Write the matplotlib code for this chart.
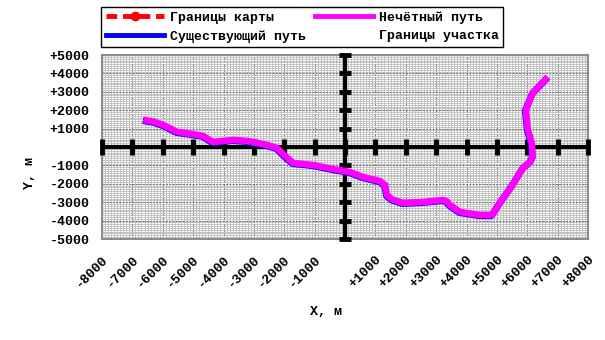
import matplotlib
matplotlib.use("Agg")
import matplotlib.pyplot as plt
import matplotlib.transforms as mtransforms
import numpy as np

# ---- data ----
odd_x = [-6640, -6300, -5990, -5750, -5530, -5000, -4670, -4500, -4340, -4000, -3680,
         -3220, -2900, -2570, -2240, -2000, -1710, -1050, -390, 160, 590, 1150,
         1320, 1380, 1550, 1910, 2570, 3220, 3350, 3450, 3780, 4440, 4840,
         5100, 5500, 5860, 6100, 6180, 6150, 6020, 5950, 6180, 6680]
odd_y = [1470, 1380, 1200, 1000, 820, 700, 600, 420, 270, 330, 380,
         330, 230, 110, -50, -450, -870, -980, -1200, -1360, -1630, -1850,
         -2070, -2610, -2850, -3040, -2990, -2880, -2950, -3150, -3530, -3700, -3700,
         -3040, -2100, -1140, -800, -540, 220, 920, 2010, 2930, 3800]
exist_x = list(odd_x)
exist_y = list(odd_y)

x_ticks = [-8000, -7000, -6000, -5000, -4000, -3000, -2000, -1000,
           1000, 2000, 3000, 4000, 5000, 6000, 7000, 8000]
y_ticks = [5000, 4000, 3000, 2000, 1000, -1000, -2000, -3000, -4000, -5000]
x_labels = ["%+d" % v for v in x_ticks]
y_labels = ["%+d" % v for v in y_ticks]

FONT = "Liberation Mono"
FS = 9.5

fig = plt.figure(figsize=(6.05, 3.4), dpi=100)
ax = fig.add_axes([102 / 605, 1 - 239 / 340, 486 / 605, 184 / 340])
ax.set_xlim(-8000, 8000)
ax.set_ylim(-5000, 5000)

# fine grid
ax.set_xticks(np.arange(-8000, 8001, 100), minor=True)
ax.set_yticks(np.arange(-5000, 5001, 100), minor=True)
ax.grid(which="minor", color="#b8b8b8", lw=0.55)
ax.set_xticks(x_ticks)
ax.set_yticks(y_ticks)
ax.grid(which="major", color="#7a7a7a", lw=0.8, ls=(0, (2, 1)))
ax.set_axisbelow(True)
ax.tick_params(which="both", length=0)
ax.set_xticklabels(x_labels, rotation=45, ha="right", va="top",
                   rotation_mode="anchor", fontfamily=FONT, fontweight="bold", fontsize=FS)
ax.set_yticklabels(y_labels, fontfamily=FONT, fontweight="bold", fontsize=FS)
ax.tick_params(axis="x", pad=10)
ax.tick_params(axis="y", pad=9)
for s in ax.spines.values():
    s.set_color("#8c8c8c")
    s.set_linewidth(1.5)

# central cross
ax.axhline(0, color="black", lw=3, zorder=3)
ax.axvline(0, color="black", lw=3, zorder=3)
ax.plot(x_ticks + [0], [0] * (len(x_ticks) + 1), ls="none", marker="|", ms=11, mew=3.5,
        color="black", zorder=3, clip_on=False)
ax.plot([0] * len(y_ticks), y_ticks, ls="none", marker="_", ms=9, mew=3.5,
        color="black", zorder=3, clip_on=False)

# paths
shift = mtransforms.offset_copy(ax.transData, fig=fig, x=-0.4, y=-0.5, units="points")
ax.plot(exist_x, exist_y, color="#0000ff", lw=4.8, solid_capstyle="butt",
        solid_joinstyle="round", transform=shift, zorder=4)
ax.plot(odd_x, odd_y, color="#ff00ff", lw=4.8, solid_capstyle="butt",
        solid_joinstyle="round", zorder=5)

ax.set_xlabel("X, м", fontfamily=FONT, fontweight="bold", fontsize=FS)
ax.set_ylabel("Y, м", fontfamily=FONT, fontweight="bold", fontsize=FS)
ax.xaxis.set_label_coords(0.461, -0.363)
ax.yaxis.set_label_coords(-0.136, 0.36)

# legend
h_map, = ax.plot([], [], color="red", lw=3.5, ls=(0, (2.2, 1.2)), marker="o", ms=6)
h_exist, = ax.plot([], [], color="#0000ff", lw=3.5)
h_odd, = ax.plot([], [], color="#ff00ff", lw=3.5)
h_plot, = ax.plot([], [], color="white", lw=0)
leg = fig.legend([h_map, h_exist, h_odd, h_plot],
                 ["Границы карты", "Существующий путь", "Нечётный путь", "Границы участка"],
                 ncol=2, loc="upper left", bbox_to_anchor=(101 / 605, 1 - 7 / 340),
                 borderaxespad=0, fancybox=False, framealpha=1, edgecolor="black",
                 handlelength=4.4, handletextpad=0.45, columnspacing=0.7,
                 borderpad=0.35, labelspacing=0.45,
                 prop={"family": FONT, "weight": "bold", "size": FS})
leg.get_frame().set_linewidth(1.0)

fig.savefig("out.png", dpi=100)
